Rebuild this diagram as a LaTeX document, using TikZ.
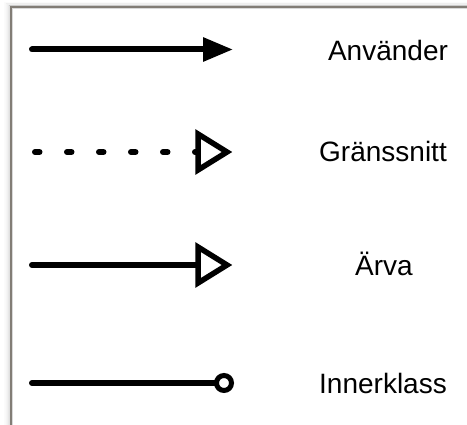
\documentclass[tikz,border=0pt]{standalone}
\usepackage{fontspec}
\setmainfont{Liberation Sans}
\usetikzlibrary{arrows.meta}
\begin{document}
\begin{tikzpicture}[x=1pt,y=1pt,
  link/.style={line width=6pt, line cap=round, black},
  opentip/.style={line width=5.5pt, line join=miter, draw=black, fill=white},
  ringtip/.style={line width=5pt, draw=black, fill=white},
  label/.style={anchor=base, inner sep=0pt, font=\fontsize{28}{30}\selectfont},
  frameline/.style={line width=2pt, draw={rgb,255:red,130;green,125;blue,118}}
]
\useasboundingbox (0,0) rectangle (467,-425);
\fill[white] (0,0) rectangle (467,-425);
% soft shadow along the left and top edges of the frame
\foreach \d/\o in {1/0.16,2/0.12,3/0.09,4/0.06,5/0.04,6/0.025,7/0.015}{
  \draw[black, opacity=\o, line width=1pt] (11-\d,-425) -- (11-\d,-7+\d*0.6) -- (467,-7+\d*0.6);
}
% frame
\draw[frameline] (11,-425) -- (11,-7) -- (467,-7);
\draw[white!70!gray, line width=0.6pt] (12.3,-425) -- (12.3,-8.3) -- (467,-8.3);

% end points of the four connectors
\coordinate (s1) at (32,-49.5);   \coordinate (e1) at (233,-49.5);
\coordinate (s2) at (35,-152);    \coordinate (e2) at (198,-152);
\coordinate (s3) at (32,-265);    \coordinate (e3) at (198,-265);
\coordinate (s4) at (32,-383);    \coordinate (e4) at (216.5,-383);

% uses
\draw[link, -{Triangle[length=30pt,width=23pt]}] (s1) -- (e1);
% interface
\draw[link, dash pattern=on 4.5pt off 27.5pt] (s2) -- (e2);
\draw[opentip] ([yshift=18pt]e2) -- ([yshift=-18pt]e2) -- ([xshift=29pt]e2) -- cycle;
% inheritance
\draw[link] (s3) -- (e3);
\draw[opentip] ([yshift=18pt]e3) -- ([yshift=-18pt]e3) -- ([xshift=29pt]e3) -- cycle;
% inner class
\draw[link] (s4) -- (e4);
\draw[ringtip] ([xshift=7.5pt]e4) circle[radius=7.5pt];

% labels
\node[label] (l1) at (388,-60.5) {Använder};
\node[label] (l2) at (383,-162) {Gränssnitt};
\node[label] (l3) at (384,-275.5) {Ärva};
\node[label] (l4) at (383,-393.5) {Innerklass};
\end{tikzpicture}
\end{document}
